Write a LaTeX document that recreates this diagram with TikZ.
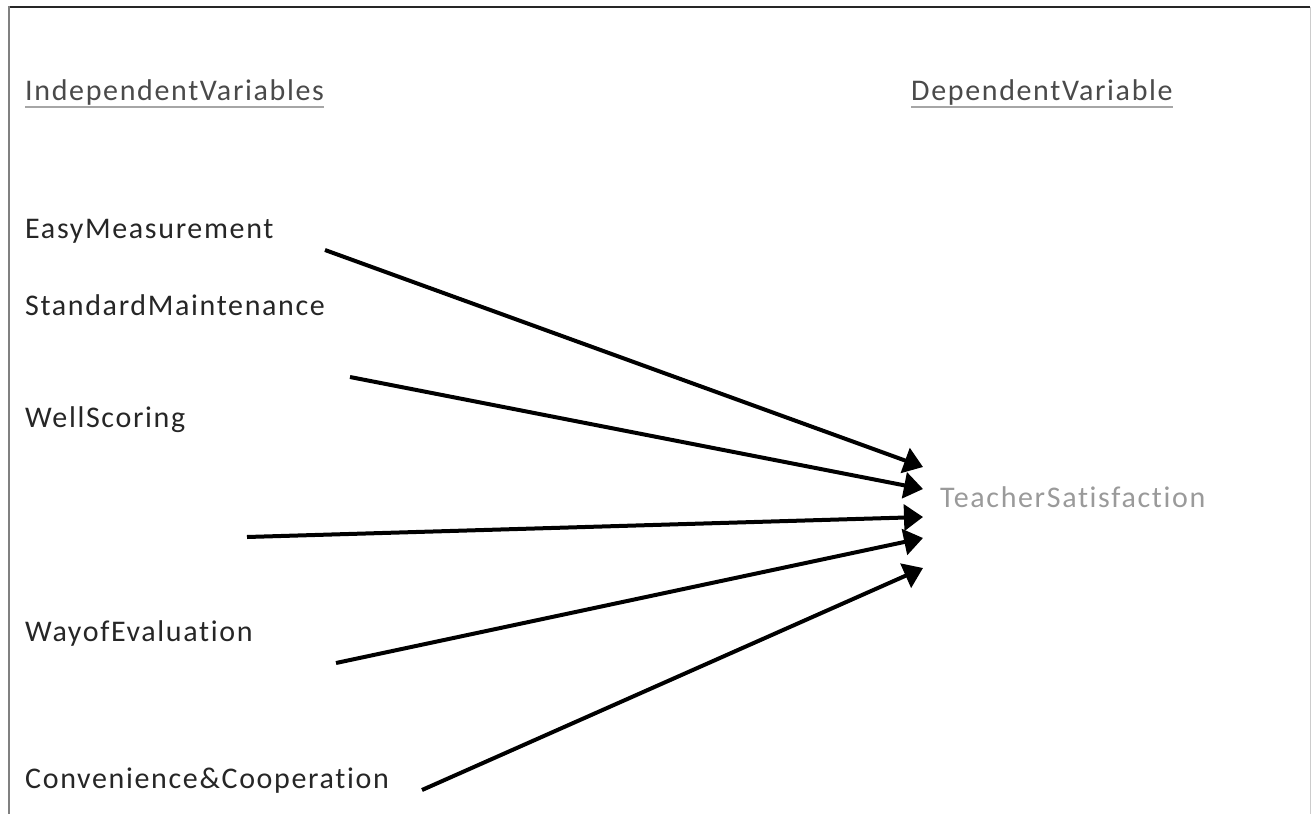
\documentclass[tikz,border=0pt]{standalone}
\usepackage{fontspec}
\setmainfont{Carlito}[LetterSpace=5.5,Ligatures=NoCommon]
\usetikzlibrary{arrows.meta}
\definecolor{labeltext}{HTML}{262626}
\definecolor{headtext}{HTML}{4A4A4A}
\definecolor{deptext}{HTML}{9A9A9A}
\tikzset{
  lbl/.style={anchor=base west, inner sep=0pt, text=labeltext, font=\fontsize{30}{34}\selectfont},
  hdr/.style={lbl, text=headtext},
  dep/.style={lbl, text=deptext},
  arr/.style={line width=4pt, -{Triangle[length=19pt,width=26pt]}},
  uline/.style={line width=2pt, draw=gray!70},
}
\begin{document}
\begin{tikzpicture}[x=1pt,y=-1pt]
\useasboundingbox (0,0) rectangle (1312,814);
% frame
\draw[line width=2pt, black!85] (8,7) -- (1310,7);
\draw[line width=2pt, gray] (9,6) -- (9,814);
\draw[line width=1pt, gray!40] (1310,7) -- (1310,814);
% headers
\node[hdr] (indep) at (25,100) {IndependentVariables};
\node[hdr] (dep) at (911,100) {DependentVariable};
\draw[uline] ([yshift=-7pt]indep.base west) -- ([yshift=-7pt]indep.base east);
\draw[uline] ([yshift=-7pt]dep.base west) -- ([yshift=-7pt]dep.base east);
% independent variables
\node[lbl] (easy) at (25,238) {EasyMeasurement};
\node[lbl] (std) at (25,315) {StandardMaintenance};
\node[lbl] (well) at (25,427) {WellScoring};
\node[lbl] (way) at (25,641) {WayofEvaluation};
\node[lbl] (conv) at (25,788) {Convenience\&Cooperation};
% dependent variable
\node[dep] (teacher) at (940,507) {TeacherSatisfaction};
% connector ends
\coordinate (s1) at (325,250);
\coordinate (s2) at (350,377);
\coordinate (s3) at (247,537);
\coordinate (s4) at (336,663);
\coordinate (s5) at (422,790);
\coordinate (t1) at (923,467);
\coordinate (t2) at (923,489);
\coordinate (t3) at (923,517);
\coordinate (t4) at (923,538);
\coordinate (t5) at (923,568);
\draw[arr] (s1) -- (t1);
\draw[arr] (s2) -- (t2);
\draw[arr] (s3) -- (t3);
\draw[arr] (s4) -- (t4);
\draw[arr] (s5) -- (t5);
\end{tikzpicture}
\end{document}
